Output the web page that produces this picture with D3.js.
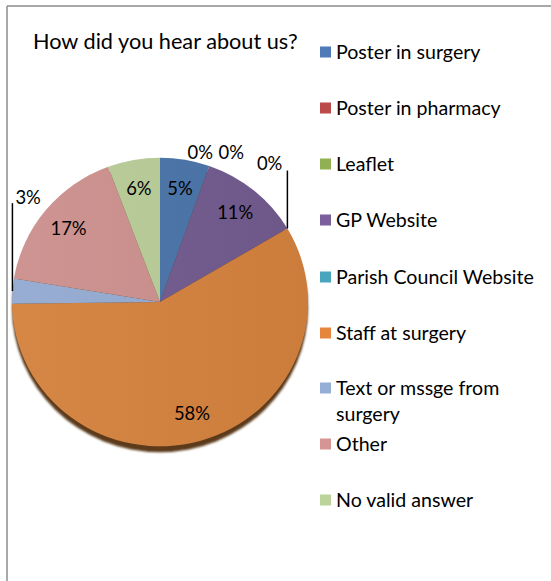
<!DOCTYPE html>
<html>
<head>
<meta charset="utf-8">
<script src="https://cdn.jsdelivr.net/npm/d3@7/dist/d3.min.js"></script>
<style>
  html, body { margin: 0; padding: 0; background: #fff; }
  svg { display: block; }
  text { font-family: Lato, "Open Sans", sans-serif; fill: #000; }
</style>
</head>
<body>
<svg id="chart" width="551" height="581"></svg>
<script>
// ---- data ----
const title = "How did you hear about us?";
const categories = ["Poster in surgery", "Poster in pharmacy", "Leaflet", "GP Website",
  "Parish Council Website", "Staff at surgery", "Text or mssge from surgery", "Other", "No valid answer"];
const values = [5.4, 0, 0, 11.1, 0, 58.3, 2.8, 16.7, 5.7];
const sliceColors = ["#4A74A9", "#B44A47", "#8EAB52", "#725A8E", "#45A0B8", "#D4823E", "#93AAD1", "#CC908E", "#B8CC98"];
const legendColors = ["#4F7BB6", "#BA4B48", "#91B054", "#7B5F9C", "#49A5BE", "#E6863E", "#95AED6", "#D69592", "#BCD39B"];
const legendLines = [["Poster in surgery"], ["Poster in pharmacy"], ["Leaflet"], ["GP Website"],
  ["Parish Council Website"], ["Staff at surgery"], ["Text or mssge from", "surgery"], ["Other"], ["No valid answer"]];

const svg = d3.select("#chart");
const W = 551, H = 581;
const FS_TITLE = 21.7, FS_LEG = 19.6, FS_LAB = 18.4;

// frame (only left and top edges visible in the crop)
svg.append("line").attr("x1", 7).attr("y1", 6).attr("x2", W + 5).attr("y2", 6)
  .attr("stroke", "#8c8c8c").attr("stroke-width", 1.5);
svg.append("line").attr("x1", 7).attr("y1", 6).attr("x2", 7).attr("y2", H + 5)
  .attr("stroke", "#8c8c8c").attr("stroke-width", 1.5);

// title
svg.append("text").attr("x", 33).attr("y", 49).attr("font-size", FS_TITLE).text(title);

// pie
const cx = 160, cy = 302, R = 148, sy = 0.975;
const pie = d3.pie().sort(null).value(d => d).startAngle(0).endAngle(2 * Math.PI);
const arcs = pie(values);
const arc = d3.arc().innerRadius(0).outerRadius(R);

const defs = svg.append("defs");
const blur = defs.append("filter").attr("id", "blur").attr("x", "-10%").attr("y", "-10%").attr("width", "120%").attr("height", "120%");
blur.append("feGaussianBlur").attr("stdDeviation", 1.3);
const shade = defs.append("linearGradient").attr("id", "shade").attr("x1", "0").attr("y1", "0").attr("x2", "1").attr("y2", "0");
shade.append("stop").attr("offset", "0").attr("stop-color", "#fff").attr("stop-opacity", 0.04);
shade.append("stop").attr("offset", "1").attr("stop-color", "#000").attr("stop-opacity", 0.04);

const pg = svg.append("g").attr("transform", `translate(${cx},${cy}) scale(1,${sy})`);
pg.append("circle").attr("cx", 0).attr("cy", 6).attr("r", R).attr("fill", "#5b3b1c").attr("filter", "url(#blur)");
pg.selectAll("path.slice").data(arcs).join("path").attr("class", "slice")
  .attr("d", arc).attr("fill", (d, i) => sliceColors[i]);
pg.append("circle").attr("r", R).attr("fill", "url(#shade)");

// labels
const pct = v => Math.round(v) + "%";
const labelArc = d3.arc().innerRadius(R * 0.8).outerRadius(R * 0.8);
const mid = d => (d.startAngle + d.endAngle) / 2;
const edgePt = d => [cx + R * Math.sin(mid(d)), cy - R * sy * Math.cos(mid(d))];

const lg = svg.append("g");
arcs.forEach((d, i) => {
  const v = values[i];
  if (v >= 5) {
    const [x, y] = labelArc.centroid(d);
    lg.append("text").attr("x", cx + x).attr("y", cy + y * sy).attr("dy", "0.35em")
      .attr("text-anchor", "middle").attr("font-size", FS_LAB).text(pct(v));
  }
});
// outside labels
const outside = [
  { i: 1, dx: -9, dy: -13, anchor: "middle", leader: 0 },
  { i: 2, dx: 22, dy: -13, anchor: "middle", leader: 0 },
  { i: 4, dx: -5, dy: -65, anchor: "end", leader: 58 },
  { i: 6, dx: 3, dy: -94, anchor: "start", leader: 88 }
];
outside.forEach(o => {
  const d = arcs[o.i];
  const [px, py] = edgePt(d);
  if (o.leader) {
    lg.append("line").attr("x1", px).attr("y1", py).attr("x2", px).attr("y2", py - o.leader)
      .attr("stroke", "#000").attr("stroke-width", 1.5);
  }
  lg.append("text").attr("x", px + o.dx).attr("y", py + o.dy).attr("dy", "0.35em")
    .attr("text-anchor", o.anchor).attr("font-size", FS_LAB).text(pct(values[o.i]));
});

// legend
const legY = [52, 108, 164, 220, 277, 333, 388, 444, 500];
const leg = svg.append("g");
categories.forEach((c, i) => {
  leg.append("rect").attr("x", 320).attr("y", legY[i] - 5.5).attr("width", 11).attr("height", 11)
    .attr("fill", legendColors[i]);
  legendLines[i].forEach((line, k) => {
    leg.append("text").attr("x", 336).attr("y", legY[i] + k * 26).attr("dy", "0.35em")
      .attr("font-size", FS_LEG).text(line);
  });
});
</script>
</body>
</html>
